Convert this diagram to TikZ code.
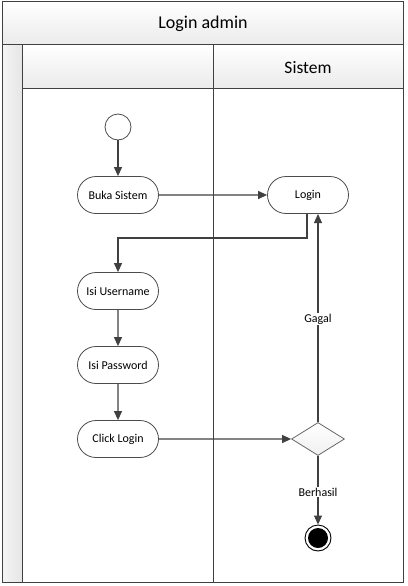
\documentclass[tikz,border=0pt]{standalone}
\usepackage{fontspec}
\setmainfont{Carlito}
\usetikzlibrary{shapes.geometric,shapes.misc,arrows.meta}
\begin{document}
\begin{tikzpicture}[x=1pt,y=-1pt,
  frame/.style={draw=black!75,line width=1pt},
  act/.style={draw=black!70,line width=0.8pt,rounded rectangle,minimum width=81pt,minimum height=37pt,font=\fontsize{12}{14}\selectfont,inner sep=0pt},
  flow/.style={draw=black!75,line width=1.1pt,-{Triangle[length=9pt,width=8pt]}},
  lbl/.style={fill=white,font=\fontsize{12}{14}\selectfont,inner sep=1pt}]
\useasboundingbox (0,0) rectangle (407,586);
% title band
\shade[top color=white,bottom color=black!8] (2,2) rectangle (403,45);
\shade[top color=white,bottom color=black!8] (22,45) rectangle (403,88);
\shade[left color=black!4,right color=black!10] (2,45) rectangle (22,582);
\draw[frame] (2,2) rectangle (403,582);
\draw[frame] (2,45) -- (403,45);
\draw[frame] (22,45) -- (22,582);
\draw[frame] (22,88) -- (403,88);
\draw[frame] (213,45) -- (213,582);
\node[font=\fontsize{18}{20}\selectfont] (title) at (203,24) {Login admin};
\node[font=\fontsize{17.5}{20}\selectfont] (lane) at (308,68) {Sistem};
% nodes
\node[circle,draw=black!70,line width=0.8pt,fill=white,minimum size=26pt,inner sep=0pt] (start) at (118,127) {};
\node[act] (buka) at (118,195) {Buka Sistem};
\node[act] (login) at (308,195) {Login};
\node[act] (user) at (118,291) {Isi Username};
\node[act] (pass) at (118,365) {Isi Password};
\node[act] (click) at (118,439) {Click Login};
\node[diamond,aspect=1.65,draw=black!60,line width=0.8pt,top color=white,bottom color=black!6,minimum width=53pt,minimum height=33pt,inner sep=0pt] (dec) at (318,439) {};
\node[circle,draw=black,line width=0.9pt,fill=white,minimum size=26pt,inner sep=0pt] (endo) at (318,538) {};
\node[circle,fill=black,minimum size=20pt,inner sep=0pt] (endi) at (318,538) {};
% flows
\draw[flow] (start) -- (buka);
\draw[flow] (buka) -- (login);
\coordinate (lb) at (307,214);
\coordinate (c1) at (307,238);
\coordinate (c2) at (118,238);
\draw[flow] (lb) -- (c1) -- (c2) -- (user);
\draw[flow] (user) -- (pass);
\draw[flow] (pass) -- (click);
\draw[flow] (click) -- (dec);
\coordinate (lt) at (318,214);
\draw[flow] (dec.north) -- (lt);
\draw[flow] (dec.south) -- (endo);
\node[lbl] (gagal) at (318,319) {Gagal};
\node[lbl] (berhasil) at (318,492) {Berhasil};
\end{tikzpicture}
\end{document}
